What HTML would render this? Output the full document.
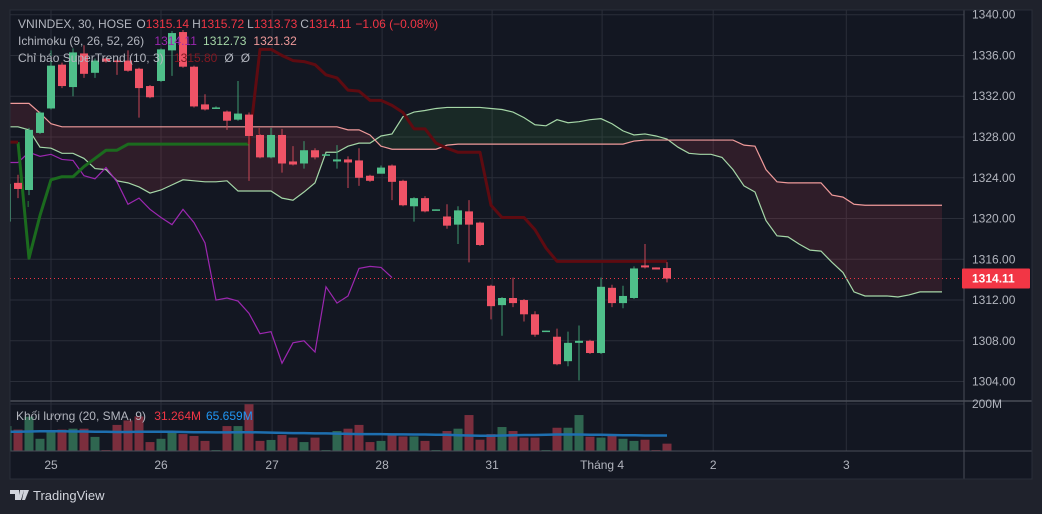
<!DOCTYPE html>
<html><head><meta charset="utf-8">
<style>
html,body{margin:0;padding:0;background:#1f222c;width:1042px;height:514px;overflow:hidden;font-family:"Liberation Sans","DejaVu Sans",sans-serif;}
svg{position:absolute;left:0;top:0;}
</style></head>
<body>
<svg id="chart" width="1042" height="514" xmlns="http://www.w3.org/2000/svg">
<rect x="10" y="10" width="1022" height="469" fill="#131722"/>
<g id="grid"></g>
<g id="cloud"></g>
<g id="lines"></g>
<g id="candles"></g>
<g id="vol"></g>
<g id="axes"></g>
<g font-size="12" fill="#b2b5be">
<text x="18" y="28">VNINDEX, 30, HOSE <tspan dx="1">O</tspan><tspan fill="#f23645">1315.14</tspan><tspan dx="3">H</tspan><tspan fill="#f23645">1315.72</tspan><tspan dx="3">L</tspan><tspan fill="#f23645">1313.73</tspan><tspan dx="3">C</tspan><tspan fill="#f23645">1314.11</tspan><tspan dx="4" fill="#f23645">−1.06 (−0.08%)</tspan></text>
<text x="18" y="45">Ichimoku (9, 26, 52, 26) <tspan dx="7" fill="#9c27b0">1314.11</tspan><tspan dx="7" fill="#a5d6a7">1312.73</tspan><tspan dx="7" fill="#ef9a9a">1321.32</tspan></text>
<text x="18" y="62">Chỉ báo SuperTrend (10, 3) <tspan dx="7" fill="#801922">1315.80</tspan><tspan dx="7">Ø</tspan><tspan dx="7">Ø</tspan></text>
<text x="16" y="420">Khối lượng (20, SMA, 9) <tspan dx="5" fill="#f23645">31.264M</tspan><tspan dx="5" fill="#2196f3">65.659M</tspan></text>
</g>
<g>
<path d="M10 490h9v10h-4v-6h-5z M20 490h4l-3 10h-3z M24 490h5l-4 10h-3z" fill="#d1d4dc"/>
<text x="33" y="500" font-size="13" fill="#d1d4dc">TradingView</text>
</g>
</svg>
<script>
const startIndex = -1;
const opens  = [1319.7,1323.5,1322.8,1328.4,1330.8,1335.1,1332.9,1336.2,1334.3,1335.7,1335.5,1335.5,1334.7,1333.0,1333.5,1336.5,1338.3,1334.9,1331.2,1330.8,1330.5,1329.7,1330.2,1328.2,1326.0,1328.2,1325.6,1325.4,1326.7,1326.2,1325.6,1325.8,1325.7,1324.2,1324.4,1325.2,1323.7,1321.2,1322.0,1320.8,1320.2,1319.4,1320.7,1319.6,1313.4,1311.5,1312.2,1312.0,1310.6,1308.9,1308.4,1306.0,1307.8,1308.0,1306.8,1313.2,1311.7,1312.2,1315.4,1315.2,1315.14];
const highs  = [1323.6,1324.3,1328.9,1330.5,1336.5,1335.3,1336.7,1337.0,1335.7,1335.8,1335.6,1336.5,1334.8,1333.1,1336.7,1338.4,1338.5,1335.0,1332.2,1331.0,1330.6,1333.5,1330.4,1328.3,1328.9,1328.8,1327.1,1327.6,1326.9,1326.4,1327.2,1326.1,1326.9,1324.3,1325.2,1325.3,1323.8,1322.1,1322.2,1320.9,1321.4,1321.2,1321.8,1319.7,1313.5,1312.3,1314.2,1312.1,1310.9,1309.0,1309.2,1308.9,1309.5,1308.1,1314.2,1313.5,1313.4,1315.3,1317.5,1315.2,1315.72];
const lows   = [1319.5,1322.0,1322.3,1328.3,1330.7,1332.8,1332.0,1333.8,1333.8,1335.3,1334.1,1334.4,1329.9,1331.8,1333.4,1334.0,1334.8,1330.9,1330.6,1330.8,1328.7,1329.6,1323.7,1325.9,1325.9,1324.5,1325.2,1324.9,1325.8,1326.2,1324.9,1323.0,1323.2,1323.6,1324.4,1321.8,1321.2,1319.7,1320.6,1320.8,1319.0,1317.5,1315.7,1317.3,1310.1,1308.5,1311.3,1309.9,1308.4,1308.9,1305.6,1305.5,1304.1,1306.7,1306.7,1311.3,1311.2,1312.1,1315.1,1315.0,1313.73];
const closes = [1323.4,1322.9,1328.7,1330.4,1335.0,1333.0,1336.3,1334.2,1335.5,1335.4,1335.4,1334.5,1332.8,1331.9,1336.6,1338.2,1334.9,1331.0,1330.7,1330.9,1329.6,1330.3,1328.1,1326.0,1328.2,1325.4,1325.3,1326.7,1326.0,1326.3,1325.8,1325.5,1324.0,1323.7,1325.0,1323.6,1321.3,1322.0,1320.7,1320.9,1319.3,1320.8,1319.4,1317.4,1311.4,1312.2,1311.7,1310.6,1308.6,1309.0,1305.7,1307.8,1308.0,1306.8,1313.3,1311.7,1312.4,1315.1,1315.2,1315.0,1314.11];
const volumes = [106,91,146,52,86,91,95,95,60,4,111,130,147,38,52,85,72,64,43,4,106,106,199,43,47,68,57,38,57,4,85,95,111,38,43,72,62,62,43,4,85,95,153,48,72,102,85,57,57,4,99,99,153,61,57,68,52,43,48,4,31.3];
const volumeSma = [82,82,83,84,84,84,83,83,82,82,81,81,82,82,82,82,81,80,80,79,79,80,80,79,78,77,76,76,75,75,74,73,72,72,72,71,71,70,70,69,69,67,66,65,65,66,67,68,68,69,70,70,70,69,69,68,67,67,66,66,65.7];
const laggingSpan = [1325.5,1325.5,1326.5,1326.1,1326.3,1325.8,1325.7,1324.2,1323.9,1325.0,1323.6,1321.4,1322.0,1320.9,1320.1,1319.4,1320.9,1319.6,1317.6,1312.0,1312.2,1311.9,1310.7,1308.7,1308.9,1305.8,1307.8,1308.0,1306.9,1313.3,1311.7,1312.4,1315.1,1315.3,1315.2,1314.2];
const leadA = [1329.0,1329.0,1328.7,1327.0,1326.9,1326.4,1326.4,1325.9,1324.9,1324.8,1323.7,1323.5,1323.1,1322.5,1322.8,1323.3,1323.8,1323.7,1323.6,1323.6,1323.7,1322.7,1322.7,1322.7,1322.7,1322.0,1321.8,1322.6,1323.5,1326.5,1326.5,1327.1,1327.4,1327.4,1328.1,1328.3,1330.0,1330.45,1330.6,1330.8,1330.9,1330.9,1330.9,1330.9,1330.8,1330.7,1330.45,1329.9,1329.2,1329.1,1329.7,1329.4,1329.5,1329.7,1329.8,1329.3,1328.6,1328.2,1328.3,1328.1,1327.8,1327.0,1326.4,1326.3,1326.3,1326.0,1324.8,1323.2,1322.6,1319.8,1318.3,1318.2,1317.5,1316.9,1316.8,1315.7,1314.7,1312.8,1312.4,1312.4,1312.4,1312.3,1312.5,1312.8,1312.8,1312.8];
const leadB = [1331.3,1331.3,1331.3,1330.35,1329.3,1329.0,1329.0,1329.0,1329.0,1329.0,1329.0,1329.0,1329.0,1329.0,1329.0,1329.0,1329.0,1329.0,1329.0,1329.0,1329.0,1329.0,1329.0,1329.0,1329.0,1329.0,1329.0,1329.0,1329.0,1329.0,1329.0,1328.7,1328.7,1328.2,1327.1,1326.8,1326.8,1326.8,1326.8,1326.8,1327.2,1327.3,1327.3,1327.3,1327.3,1327.3,1327.3,1327.3,1327.3,1327.3,1327.3,1327.3,1327.3,1327.3,1327.3,1327.3,1327.3,1327.6,1327.7,1327.7,1327.7,1327.7,1327.7,1327.7,1327.7,1327.7,1327.7,1327.2,1327.1,1324.8,1323.6,1323.5,1323.5,1323.5,1323.5,1322.3,1322.1,1321.4,1321.3,1321.3,1321.3,1321.3,1321.3,1321.3,1321.3,1321.3];
const superUp = [null,1327.5,1316.1,1320.3,1323.8,1324.1,1324.1,1325.1,1325.9,1326.7,1326.7,1327.3,1327.3,1327.3,1327.3,1327.3,1327.3,1327.3,1327.3,1327.3,1327.3,1327.3,1327.3,null];
const superDown = [1327.5,1327.5,null,null,null,null,null,null,null,null,null,null,null,null,null,null,null,null,null,null,null,null,1327.3,1336.6,1336.6,1336.0,1335.5,1335.4,1335.1,1334.1,1333.8,1332.6,1332.5,1331.6,1331.6,1331.1,1330.4,1328.8,1328.8,1327.4,1326.9,1326.5,1326.5,1326.5,1321.3,1320.1,1320.1,1320.1,1318.9,1317.1,1315.8,1315.8,1315.8,1315.8,1315.8,1315.8,1315.8,1315.8,1315.8,1315.8,1315.8];
const priceTicks = [1340,1336,1332,1328,1324,1320,1316,1312,1308,1304];
const priceTickLabels = ["1340.00","1336.00","1332.00","1328.00","1324.00","1320.00","1316.00","1312.00","1308.00","1304.00"];
const dateTickIndex = [3,13,23.1,33.1,43.1,53.1,63.2,75.3];
const dateTickLabels = ["25","26","27","28","31","Tháng 4","2","3"];
const lastPrice = 1314.11;

const NS="http://www.w3.org/2000/svg";
const xOf = i => 18 + 11*i;
const yOf = p => 137 + (1328 - p)*10.19;
const yVol = v => 451 - v*47/200;
function mk(tag, attrs, parent){const e=document.createElementNS(NS,tag);for(const k in attrs)e.setAttribute(k,attrs[k]);parent.appendChild(e);return e;}
const G=id=>document.getElementById(id);

const defs=mk('defs',{},G('chart'));
const cp=mk('clipPath',{id:'mainclip'},defs);mk('rect',{x:10,y:10,width:954,height:391},cp);
const cv=mk('clipPath',{id:'volclip'},defs);mk('rect',{x:10,y:402,width:954,height:49},cv);
G('cloud').setAttribute('clip-path','url(#mainclip)');
G('lines').setAttribute('clip-path','url(#mainclip)');
G('candles').setAttribute('clip-path','url(#mainclip)');
G('vol').setAttribute('clip-path','url(#volclip)');

const grid=G('grid');
priceTicks.forEach(p=>{const l=mk('line',{x1:10,x2:964,y1:yOf(p),y2:yOf(p),stroke:'#2a2e39','stroke-width':1},grid);

});
mk('line',{x1:10,x2:964,y1:404,y2:404,stroke:'#2a2e39'},grid);
dateTickIndex.forEach(i=>{const l=mk('line',{x1:xOf(i),x2:xOf(i),y1:10,y2:451,stroke:'#2a2e39'},grid);

});

const cloud=G('cloud');
for(let k=0;k<leadA.length-1;k++){
  const i=startIndex+k;
  const aAbove=(leadA[k]+leadA[k+1])>(leadB[k]+leadB[k+1]);
  const pts=[[xOf(i),yOf(leadA[k])],[xOf(i+1),yOf(leadA[k+1])],[xOf(i+1),yOf(leadB[k+1])],[xOf(i),yOf(leadB[k])]];
  const pg=mk('polygon',{points:pts.map(p=>p.join(',')).join(' '),fill:aAbove?'rgba(67,160,71,0.13)':'rgba(200,60,80,0.16)',stroke:'none'},cloud);
  
  
}
function pathFrom(arr,off){let d='',pen=false;arr.forEach((v,k)=>{if(v===null){pen=false;return;}d+=(pen?'L':'M')+xOf(off+k)+' '+yOf(v)+' ';pen=true;});return d;}
const lines=G('lines');
let e;
e=mk('path',{d:pathFrom(leadA,startIndex),fill:'none',stroke:'#a5d6a7','stroke-width':1.2},lines);


e=mk('path',{d:pathFrom(leadB,startIndex),fill:'none',stroke:'#ef9a9a','stroke-width':1.2},lines);


e=mk('path',{d:pathFrom(laggingSpan,startIndex),fill:'none',stroke:'#9c27b0','stroke-width':1.2},lines);


e=mk('path',{d:pathFrom(superUp,startIndex),fill:'none',stroke:'#1b6b1e','stroke-width':3,'stroke-linejoin':'round'},lines);


e=mk('path',{d:pathFrom(superDown,startIndex),fill:'none',stroke:'#5e0b11','stroke-width':3,'stroke-linejoin':'round'},lines);


e=mk('line',{x1:10,x2:964,y1:yOf(lastPrice),y2:yOf(lastPrice),stroke:'#f23645','stroke-width':1,'stroke-dasharray':'1 3'},lines);



const cg=G('candles');
opens.forEach((o,k)=>{
  const i=startIndex+k,c=closes[k],up=c>=o,col=up?'#4fbf8a':'#ef5366',x=xOf(i);
  const w=mk('line',{x1:x,x2:x,y1:yOf(highs[k]),y2:yOf(lows[k]),stroke:up?'#3e9a70':'#c84655','stroke-width':1},cg);
  
  
  const t=Math.min(yOf(o),yOf(c)),h=Math.max(1.5,Math.abs(yOf(o)-yOf(c)));
  const b=mk('rect',{x:x-4,y:t,width:8,height:h,fill:col},cg);
  
  
});
e=mk('text',{x:xOf(1)-2,y:207,'font-size':8,fill:'#2e9e3e'},cg);e.textContent='I';


e=mk('text',{x:xOf(22)-2,y:134,'font-size':8,fill:'#e23b3b'},cg);e.textContent='I';



const vg=G('vol');
volumes.forEach((v,k)=>{
  const i=startIndex+k,up=closes[k]>=opens[k];
  const r=mk('rect',{x:xOf(i)-4.5,y:yVol(v),width:9,height:451-yVol(v),fill:up?'#2f6650':'#7b2e3d'},vg);
  
  
});
e=mk('path',{d:volumeSma.map((v,k)=>(k?'L':'M')+xOf(startIndex+k)+' '+yVol(v)).join(' '),fill:'none',stroke:'#1e6fb0','stroke-width':2.5},vg);



const ax=G('axes');
mk('line',{x1:964,x2:964,y1:10,y2:479,stroke:'#4a4e58'},ax);
mk('line',{x1:10,x2:1032,y1:401,y2:401,stroke:'#4a4e58','stroke-width':1.5},ax);
mk('line',{x1:10,x2:1032,y1:451,y2:451,stroke:'#4a4e58'},ax);
mk('rect',{x:10,y:10,width:1022,height:469,fill:'none',stroke:'#2a2e39'},ax);
priceTicks.forEach((p,k)=>{const t=mk('text',{x:972,y:yOf(p)+4,'font-size':12,fill:'#b2b5be'},ax);t.textContent=priceTickLabels[k];

});
e=mk('text',{x:972,y:408,'font-size':12,fill:'#b2b5be'},ax);e.textContent='200M';


dateTickIndex.forEach((i,k)=>{const t=mk('text',{x:xOf(i),y:469,'font-size':12,fill:'#b2b5be','text-anchor':'middle'},ax);t.textContent=dateTickLabels[k];

});
e=mk('rect',{x:962,y:yOf(lastPrice)-10,width:68,height:20,fill:'#f23645',rx:1},ax);


e=mk('text',{x:972,y:yOf(lastPrice)+4,'font-size':12,'font-weight':'bold',fill:'#ffffff'},ax);e.textContent=lastPrice.toFixed(2);


</script>
</body></html>
